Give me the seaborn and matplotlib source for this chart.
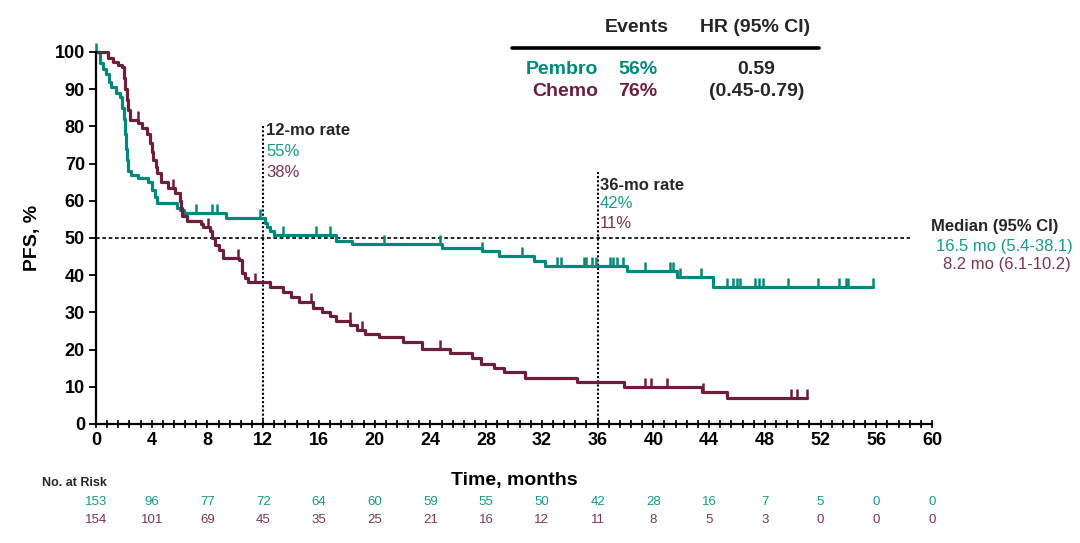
import numpy as np
import pandas as pd
import matplotlib
matplotlib.use("Agg")
import matplotlib.pyplot as plt
from matplotlib.path import Path
from matplotlib.lines import Line2D
import seaborn as sns

# ---------------- data ----------------
pembro_t = [0, 0.3, 0.5, 0.7, 0.9, 1.1, 1.4, 1.7, 1.9, 2.0, 2.1, 2.15, 2.2, 2.3, 2.5, 3.0, 3.7,
            4.0, 4.2, 4.4, 5.8, 6.0, 6.3, 9.3, 12.1, 12.3, 12.5, 12.8, 17.2, 18.4, 24.8, 27.7,
            28.9, 31.4, 32.2, 38.1, 41.7, 44.3, 55.8]
pembro_s = [100, 97, 95.5, 94, 92, 90.5, 89, 88, 85, 82, 78, 74, 71, 68, 67, 66, 65,
            63, 61, 59.3, 58, 57.5, 56.8, 55.3, 54, 53, 52, 50.8, 49.3, 48.4, 47.4, 46.6,
            45.2, 43.8, 42.5, 41.2, 39.6, 36.8, 36.8]
pembro_cens = [0, 7.2, 8.3, 8.7, 11.8, 13.4, 15.8, 16.8, 20.7, 24.7, 27.7, 30.6, 33.1, 33.4,
               35.0, 35.2, 35.6, 35.9, 36.9, 37.1, 37.4, 37.8, 39.4, 41.2, 41.4, 41.9, 43.4,
               45.3, 45.7, 46.0, 46.2, 47.3, 47.6, 47.9, 49.7, 51.8, 53.3, 53.8, 54.0, 55.8]

chemo_t = [0, 0.87, 1.2, 1.6, 1.85, 2.0, 2.1, 2.2, 2.3, 2.45, 3.05, 3.3, 3.65, 3.9, 4.0, 4.1,
           4.3, 4.4, 4.7, 5.2, 5.7, 6.0, 6.1, 6.2, 6.5, 7.5, 7.7, 8.2, 8.3, 8.55, 8.8, 9.1,
           10.25, 10.5, 10.7, 10.9, 12.5, 13.4, 14.0, 14.6, 15.6, 16.2, 16.8, 17.2, 18.25,
           18.7, 19.3, 20.3, 22.0, 23.4, 25.4, 27.0, 27.6, 28.6, 29.3, 30.8, 34.5, 37.9,
           43.5, 45.3, 51.0]
chemo_s = [100, 98.4, 97.3, 96.5, 96, 93, 90, 87, 84.4, 81.7, 80.9, 79.6, 78, 75.5, 73, 71,
           69, 67.5, 65, 63.4, 62, 60, 58, 56, 54.5, 53.8, 53, 52, 50, 48, 46.8, 44.6,
           44, 40.6, 39.2, 38.3, 36.8, 35.6, 34.2, 32.9, 31.1, 30.2, 29, 27.8, 26.5,
           25.2, 24.2, 23.3, 22.1, 20.2, 19.0, 17.7, 16.1, 15.0, 14.0, 12.3, 11.2, 10.0,
           8.7, 6.9, 6.9]
chemo_cens = [3.0, 5.5, 6.0, 8.05, 10.2, 11.4, 15.4, 18.2, 19.1, 24.7, 39.4, 39.8, 41.0,
              43.6, 49.9, 50.3, 51.0]

risk_times = [0, 4, 8, 12, 16, 20, 24, 28, 32, 36, 40, 44, 48, 52, 56, 60]
risk_pembro = [153, 96, 77, 72, 64, 60, 59, 55, 50, 42, 28, 16, 7, 5, 0, 0]
risk_chemo = [154, 101, 69, 45, 35, 25, 21, 16, 12, 11, 8, 5, 3, 0, 0, 0]

groups = ["Pembro", "Chemo"]
events = ["56%", "76%"]
rate12 = ["55%", "38%"]
rate36 = ["42%", "11%"]
medians = ["16.5 mo (5.4-38.1)", "8.2 mo (6.1-10.2)"]
hr_text = ["0.59", "(0.45-0.79)"]

TEAL = "#00897A"
MAROON = "#6B1F3D"
TEAL_T = "#179A88"
MAROON_T = "#7A3550"

# ---------------- figure ----------------
sns.set_theme(style="white")
plt.rcParams["font.family"] = ["Liberation Sans", "DejaVu Sans"]

W, H = 1080, 543
fig = plt.figure(figsize=(W / 100, H / 100), dpi=100)
ax = fig.add_axes([96 / W, 1 - 424 / H, (932 - 96) / W, (424 - 52) / H])

def px(x, y):
    return x / W, 1 - y / H

def step_val(times, surv, t):
    idx = np.searchsorted(times, t, side="right") - 1
    return np.asarray(surv)[np.clip(idx, 0, len(surv) - 1)]

tick_path = Path([(0, 0), (0, 1)], [Path.MOVETO, Path.LINETO])

for times, surv, cens, col in [(pembro_t, pembro_s, pembro_cens, TEAL),
                               (chemo_t, chemo_s, chemo_cens, MAROON)]:
    df = pd.DataFrame({"t": times, "s": surv})
    sns.lineplot(data=df, x="t", y="s", ax=ax, drawstyle="steps-post", color=col,
                 linewidth=2.3, estimator=None, sort=False, clip_on=False)
    cy = step_val(np.array(times), surv, np.array(cens))
    ax.plot(cens, cy, linestyle="none", marker=tick_path, markersize=13,
            markeredgewidth=1.8, color=col, clip_on=False)

# reference lines
ax.plot([0, 58.4], [50, 50], color="black", linestyle=(0, (2.2, 1.6)), linewidth=1.2,
        clip_on=False, zorder=1)
ax.plot([12, 12], [0, 80.4], color="black", linestyle=(0, (1, 1)), linewidth=1.5, zorder=1)
ax.plot([36, 36], [0, 67.8], color="black", linestyle=(0, (1, 1)), linewidth=1.5, zorder=1)

ax.set_xlim(0, 60)
ax.set_ylim(0, 100)
ax.set_xticks(risk_times)
ax.set_xticks(np.arange(0, 60.01, 0.8), minor=True)
ax.set_yticks(np.arange(0, 101, 10))
for s in ["top", "right"]:
    ax.spines[s].set_visible(False)
for s in ["left", "bottom"]:
    ax.spines[s].set_color("black")
    ax.spines[s].set_linewidth(1.6)
ax.tick_params(axis="x", which="both", direction="inout", length=6, width=1.2,
               colors="black", bottom=True, labelsize=13, pad=3)
ax.tick_params(axis="y", which="major", direction="out", length=5, width=1.3,
               colors="black", left=True, labelsize=13, pad=3)
for lab in ax.get_xticklabels() + ax.get_yticklabels():
    lab.set_fontweight("bold")
ax.set_xlabel("")
ax.set_ylabel("")
ax.grid(False)

fig.text(*px(32, 238), "PFS, %", rotation=90, ha="center", va="center",
         fontsize=14, fontweight="bold", color="black")
fig.text(*px(514, 481), "Time, months", ha="center", va="center",
         fontsize=14, fontweight="bold", color="black")

# landmark annotations
fig.text(*px(266, 131), "12-mo rate", ha="left", va="center", fontsize=12, fontweight="bold")
fig.text(*px(266, 152), rate12[0], ha="left", va="center", fontsize=12, color=TEAL_T)
fig.text(*px(266, 172), rate12[1], ha="left", va="center", fontsize=12, color=MAROON_T)
fig.text(*px(600, 185), "36-mo rate", ha="left", va="center", fontsize=12, fontweight="bold")
fig.text(*px(600, 204), rate36[0], ha="left", va="center", fontsize=12, color=TEAL_T)
fig.text(*px(600, 223), rate36[1], ha="left", va="center", fontsize=12, color=MAROON_T)

# median block
fig.text(*px(931, 227), "Median (95% CI)", ha="left", va="center", fontsize=12, fontweight="bold")
fig.text(*px(1073, 246), medians[0], ha="right", va="center", fontsize=12, color=TEAL_T)
fig.text(*px(1071, 265), medians[1], ha="right", va="center", fontsize=12, color=MAROON_T)

# top table
fig.text(*px(637, 27), "Events", ha="center", va="center", fontsize=14, fontweight="bold")
fig.text(*px(755, 27), "HR (95% CI)", ha="center", va="center", fontsize=14, fontweight="bold")
fig.add_artist(Line2D([512 / W, 819 / W], [1 - 48 / H, 1 - 48 / H], color="black",
                      linewidth=2.6, transform=fig.transFigure))
fig.text(*px(598, 69), groups[0], ha="right", va="center", fontsize=14, fontweight="bold", color=TEAL)
fig.text(*px(598, 91), groups[1], ha="right", va="center", fontsize=14, fontweight="bold", color=MAROON)
fig.text(*px(638, 69), events[0], ha="center", va="center", fontsize=14, fontweight="bold", color=TEAL)
fig.text(*px(638, 91), events[1], ha="center", va="center", fontsize=14, fontweight="bold", color=MAROON)
fig.text(*px(756, 69), hr_text[0], ha="center", va="center", fontsize=14, fontweight="bold")
fig.text(*px(757, 91), hr_text[1], ha="center", va="center", fontsize=14, fontweight="bold")

# risk table
fig.text(*px(42, 483), "No. at Risk", ha="left", va="center", fontsize=9, fontweight="bold")
for t, a, b in zip(risk_times, risk_pembro, risk_chemo):
    xf = ax.transData.transform((t, 0))[0] / W
    fig.text(xf, 1 - 502 / H, str(a), ha="center", va="center", fontsize=9.5, color=TEAL_T)
    fig.text(xf, 1 - 520 / H, str(b), ha="center", va="center", fontsize=9.5, color=MAROON_T)

fig.savefig("out.png", dpi=100)
